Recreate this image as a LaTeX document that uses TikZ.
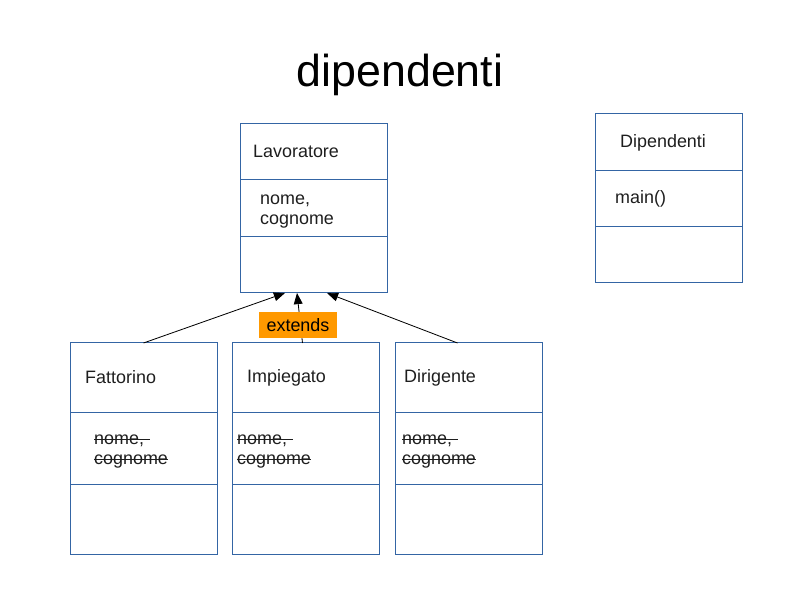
\documentclass[tikz,border=0pt]{standalone}
\usepackage{fontspec}
\setmainfont{Liberation Sans}
\usepackage{tikz}
\usetikzlibrary{arrows.meta, positioning, calc}

\definecolor{umlblue}{RGB}{52, 101, 164}
\definecolor{extorange}{RGB}{255, 153, 0}
\definecolor{txtdark}{RGB}{30, 30, 30}

\newlength\pxu
\setlength\pxu{0.03cm}

% struck-through text
\newsavebox\strkbox
\newcommand\strk[1]{\leavevmode\sbox\strkbox{#1}\rlap{\rule[0.27em]{\wd\strkbox}{0.06em}}\usebox\strkbox}

\tikzset{
  comp/.style={draw=umlblue, line width=0.85pt, minimum width=147\pxu, inner sep=0pt, outer sep=0pt},
  lbl/.style={anchor=west, inner sep=0pt, text=txtdark, align=left, font=\fontsize{15.3}{17.1}\selectfont},
  inh/.style={-{Triangle[length=9.5pt, width=7.5pt]}, line width=0.7pt, black}
}

\begin{document}
\begin{tikzpicture}[x=0.03cm, y=-0.03cm]
  \useasboundingbox (0,0) rectangle (800,600);

  % Title
  \node[font=\fontsize{38.2}{42}\selectfont, text=black] (title) at (400,75) {dipendenti};

  % Lavoratore
  \node[comp, minimum height=56\pxu, anchor=north west] (lav-name) at (240,124) {};
  \node[comp, minimum height=57\pxu, anchor=north] (lav-attr) at (lav-name.south) {};
  \node[comp, minimum height=56\pxu, anchor=north] (lav-ops) at (lav-attr.south) {};
  \node[lbl, xshift=13\pxu, yshift=1\pxu] (lav-name-t) at (lav-name.west) {Lavoratore};
  \node[lbl, xshift=20\pxu, yshift=-3\pxu] (lav-attr-t) at (lav-attr.west) {nome,\\cognome};

  % Dipendenti
  \node[comp, minimum height=57\pxu, anchor=north west] (dip-name) at (595,114) {};
  \node[comp, minimum height=56\pxu, anchor=north] (dip-attr) at (dip-name.south) {};
  \node[comp, minimum height=56\pxu, anchor=north] (dip-ops) at (dip-attr.south) {};
  \node[lbl, xshift=25\pxu] (dip-name-t) at (dip-name.west) {Dipendenti};
  \node[lbl, xshift=20\pxu] (dip-attr-t) at (dip-attr.west) {main()};

  % Fattorino
  \node[comp, minimum height=69\pxu, anchor=north west] (fat-name) at (70,343) {};
  \node[comp, minimum height=72\pxu, anchor=north] (fat-attr) at (fat-name.south) {};
  \node[comp, minimum height=70\pxu, anchor=north] (fat-ops) at (fat-attr.south) {};
  \node[lbl, xshift=15\pxu] (fat-name-t) at (fat-name.west) {Fattorino};
  \node[lbl, xshift=24\pxu, yshift=-4\pxu] (fat-attr-t) at (fat-attr.west) {\strk{nome,\,\,}\\\strk{cognome}};

  % Impiegato
  \node[comp, minimum height=69\pxu, anchor=north west] (imp-name) at (232,343) {};
  \node[comp, minimum height=72\pxu, anchor=north] (imp-attr) at (imp-name.south) {};
  \node[comp, minimum height=70\pxu, anchor=north] (imp-ops) at (imp-attr.south) {};
  \node[lbl, xshift=15\pxu] (imp-name-t) at (imp-name.west) {Impiegato};
  \node[lbl, xshift=5\pxu, yshift=-4\pxu] (imp-attr-t) at (imp-attr.west) {\strk{nome,\,\,}\\\strk{cognome}};

  % Dirigente
  \node[comp, minimum height=69\pxu, anchor=north west] (dir-name) at (395,343) {};
  \node[comp, minimum height=72\pxu, anchor=north] (dir-attr) at (dir-name.south) {};
  \node[comp, minimum height=70\pxu, anchor=north] (dir-ops) at (dir-attr.south) {};
  \node[lbl, xshift=9\pxu] (dir-name-t) at (dir-name.west) {Dirigente};
  \node[lbl, xshift=7\pxu, yshift=-4\pxu] (dir-attr-t) at (dir-attr.west) {\strk{nome,\,\,}\\\strk{cognome}};

  % Inheritance arrows
  \draw[inh] (fat-name.north) -- ([xshift=-28.5\pxu]lav-ops.south);
  \draw[inh] ([xshift=-3\pxu]imp-name.north) -- ([xshift=-16.5\pxu]lav-ops.south);
  \draw[inh] ([xshift=-11\pxu]dir-name.north) -- ([xshift=13.5\pxu]lav-ops.south);

  % extends label
  \node[fill=extorange, minimum width=78\pxu, minimum height=26\pxu, inner sep=0pt,
        font=\fontsize{15.3}{17.1}\selectfont, text=black] (ext) at (298,325) {extends};
\end{tikzpicture}
\end{document}
